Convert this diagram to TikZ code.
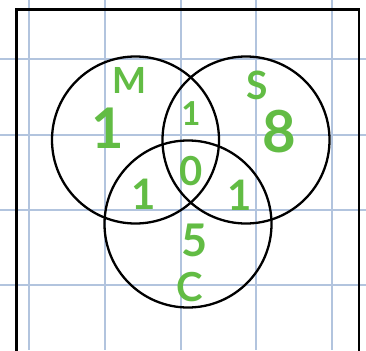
\documentclass[tikz,border=0pt]{standalone}
\usepackage{fontspec}
\setmainfont{Lato}
\definecolor{gridblue}{RGB}{178,196,222}
\definecolor{hand}{RGB}{98,188,68}
\begin{document}
\begin{tikzpicture}[x=1pt,y=-1pt,
  gridline/.style={draw=gridblue,line width=1.3pt},
  setcircle/.style={draw=black,line width=2.3pt,circle,minimum size=167pt,inner sep=0pt},
  lbl/.style={text=hand,font=\bfseries,inner sep=0pt}]
\useasboundingbox (0,0) rectangle (366,350);
\fill[white] (0,0) rectangle (366,350);
\foreach \x in {29,105,181,256,332} \draw[gridline] (\x,0) -- (\x,350);
\foreach \y in {59,135,210,285} \draw[gridline] (0,\y) -- (366,\y);
\draw[line width=2.8pt] (16.5,360) -- (16.5,9.5) -- (359,9.5) -- (359,360);
\node[setcircle] (M) at (135.5,140) {};
\node[setcircle] (S) at (246,140) {};
\node[setcircle] (C) at (188,224) {};
\node[lbl,font=\fontsize{36}{36}\selectfont\bfseries] (tM) at (130,80) {M};
\node[lbl,font=\fontsize{39}{39}\selectfont\bfseries] (tS) at (257,85) {S};
\node[lbl,font=\fontsize{40}{40}\selectfont\bfseries] (tC) at (190,287) {C};
\node[lbl,font=\fontsize{56}{56}\selectfont\bfseries] (nM) at (108,128) {1};
\node[lbl,font=\fontsize{58}{58}\selectfont\bfseries] (nS) at (279,132) {8};
\node[lbl,font=\fontsize{33}{33}\selectfont\bfseries] (nMS) at (191,114) {1};
\node[lbl,font=\fontsize{40}{40}\selectfont\bfseries] (nMSC) at (191,171) {0};
\node[lbl,font=\fontsize{42}{42}\selectfont\bfseries] (nMC) at (144,194) {1};
\node[lbl,font=\fontsize{42}{42}\selectfont\bfseries] (nSC) at (240,195) {1};
\node[lbl,font=\fontsize{45}{45}\selectfont\bfseries] (nC) at (195,240) {5};
\end{tikzpicture}
\end{document}
